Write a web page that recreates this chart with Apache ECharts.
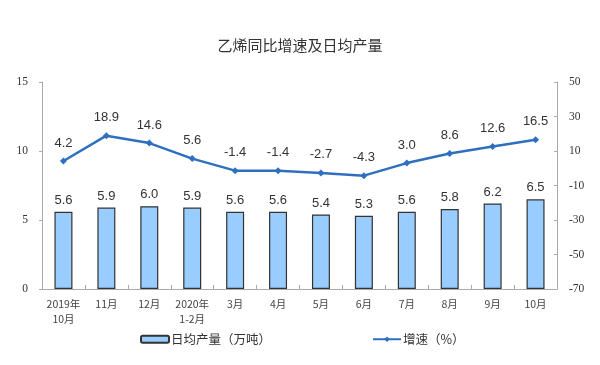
<!DOCTYPE html>
<html><head><meta charset="utf-8">
<script src="https://cdn.jsdelivr.net/npm/echarts@6/dist/echarts.min.js"></script>
<style>html,body{margin:0;padding:0;background:#fff}#c{width:600px;height:365px}</style>
</head><body><div id="c"></div>
<script>
const categories = ['2019年\n10月','11月','12月','2020年\n1-2月','3月','4月','5月','6月','7月','8月','9月','10月'];
const dailyOutput = [5.6,5.9,6.0,5.9,5.6,5.6,5.4,5.3,5.6,5.8,6.2,6.5];
const growth = [4.2,18.9,14.6,5.6,-1.4,-1.4,-2.7,-4.3,3.0,8.6,12.6,16.5];
const leftTicks = {min:0,max:15,interval:5};
const rightTicks = {min:-70,max:50,interval:20};

const chart = echarts.init(document.getElementById('c'));
const axisLabelStyle = {fontFamily:'"Liberation Serif","DejaVu Serif",serif',fontSize:11.5,color:'#333'};
chart.setOption({
  animation:false,
  title:{text:'乙烯同比增速及日均产量',left:'center',top:33,textStyle:{fontSize:15,fontWeight:'normal',color:'#333',fontFamily:'"Noto Sans CJK SC",sans-serif'}},
  grid:{left:42,right:43,top:82,bottom:76},
  legend:{left:135,top:328,itemGap:101,itemWidth:28,itemHeight:7,
    textStyle:{fontSize:12.5,color:'#333',padding:[0,0,0,-3],fontFamily:'"Noto Sans CJK SC",sans-serif'},
    data:[{name:'日均产量（万吨）',icon:'roundRect'},{name:'增速（%）'}]},
  xAxis:{type:'category',data:categories,
    axisLine:{lineStyle:{color:'#aaa'}},
    axisTick:{show:true,inside:true,length:4,lineStyle:{color:'#aaa'}},
    axisLabel:{margin:8,lineHeight:15,interval:0,fontFamily:'"Noto Sans CJK SC",serif',fontSize:10.5,color:'#444'}},
  yAxis:[
    Object.assign({type:'value',position:'left',splitLine:{show:false},
      axisLine:{show:true,lineStyle:{color:'#aaa'}},axisTick:{show:true,length:3,lineStyle:{color:'#aaa'}},
      axisLabel:Object.assign({margin:14},axisLabelStyle)},leftTicks),
    Object.assign({type:'value',position:'right',splitLine:{show:false},
      axisLine:{show:true,lineStyle:{color:'#aaa'}},axisTick:{show:true,inside:true,length:3,lineStyle:{color:'#aaa'}},
      axisLabel:Object.assign({margin:12},axisLabelStyle)},rightTicks)
  ],
  series:[
    {name:'日均产量（万吨）',type:'bar',yAxisIndex:0,data:dailyOutput,barWidth:18,
      itemStyle:{color:'#99ccff',borderColor:'#333',borderWidth:1.2},
      label:{show:true,position:'top',distance:5,fontSize:13,color:'#333',fontFamily:'"Liberation Sans",Arial,sans-serif',formatter:p=>p.value.toFixed(1)}},
    {name:'增速（%）',type:'line',yAxisIndex:1,data:growth,
      symbol:'diamond',symbolSize:7,
      lineStyle:{color:'#2e6fc0',width:2.5},itemStyle:{color:'#2e6fc0'},
      label:{show:true,position:'top',distance:8,fontSize:13,color:'#333',fontFamily:'"Liberation Sans",Arial,sans-serif',formatter:p=>p.value.toFixed(1)}}
  ]
});
</script></body></html>
